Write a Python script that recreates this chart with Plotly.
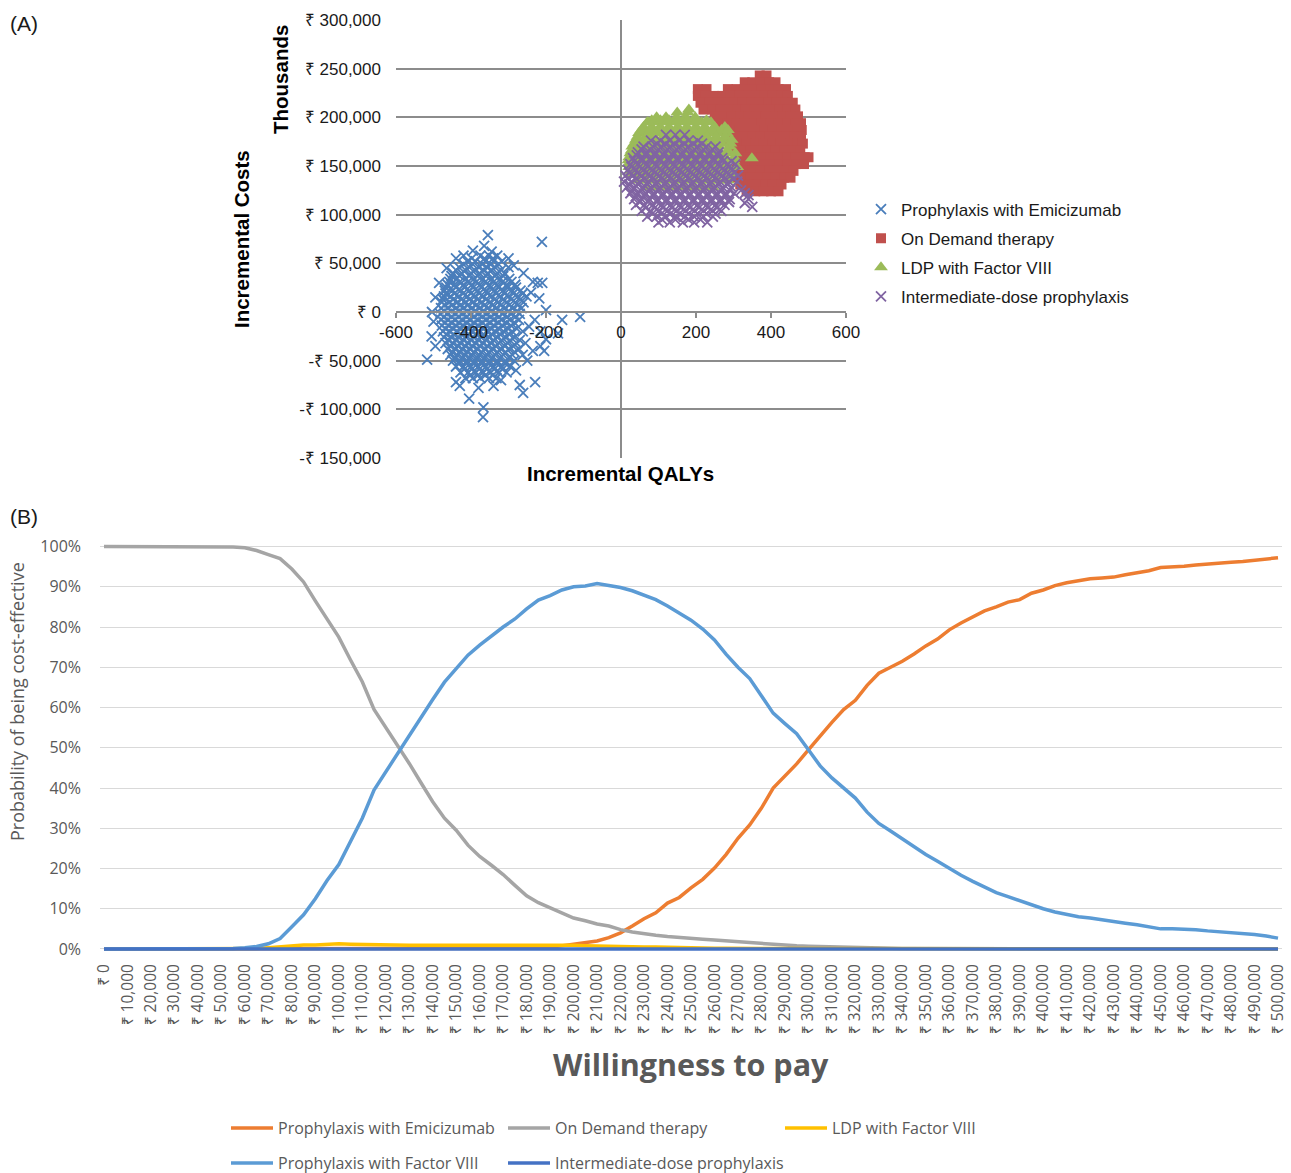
import plotly.graph_objects as go

W, H = 1291, 1173

# ---------------- Panel A data: (incremental QALYs, incremental costs in thousands ₹) ----------------
emicizumab_pts = [
    (-375, 58), (-352, 58), (-330, 58),
    (-410, 52), (-388, 52), (-362, 52), (-340, 52), (-318, 52),
    (-432, 46), (-405, 46), (-380, 46), (-358, 46), (-336, 46), (-300, 46),
    (-448, 40), (-425, 40), (-400, 40), (-377, 40), (-355, 40), (-330, 40), (-310, 40),
    (-455, 34), (-438, 34), (-414, 34), (-392, 34), (-368, 34), (-345, 34), (-322, 34), (-298, 34),
    (-462, 28), (-444, 28), (-420, 28), (-398, 28), (-376, 28), (-352, 28), (-330, 28), (-305, 28), (-282, 28),
    (-470, 22), (-450, 22), (-428, 22), (-405, 22), (-383, 22), (-360, 22), (-338, 22), (-315, 22), (-292, 22), (-268, 22),
    (-472, 16), (-455, 16), (-433, 16), (-410, 16), (-390, 16), (-368, 16), (-345, 16), (-322, 16), (-300, 16), (-275, 16), (-252, 16),
    (-478, 10), (-458, 10), (-437, 10), (-415, 10), (-395, 10), (-372, 10), (-350, 10), (-328, 10), (-305, 10), (-282, 10), (-260, 10),
    (-480, 4), (-462, 4), (-440, 4), (-420, 4), (-398, 4), (-377, 4), (-355, 4), (-333, 4), (-310, 4), (-288, 4), (-265, 4),
    (-482, -2), (-463, -2), (-442, -2), (-422, -2), (-402, -2), (-380, -2), (-358, -2), (-336, -2), (-315, -2), (-292, -2), (-270, -2),
    (-480, -8), (-462, -8), (-443, -8), (-423, -8), (-403, -8), (-382, -8), (-360, -8), (-340, -8), (-318, -8), (-296, -8), (-272, -8),
    (-478, -14), (-460, -14), (-440, -14), (-420, -14), (-400, -14), (-380, -14), (-360, -14), (-338, -14), (-316, -14), (-293, -14),
    (-475, -20), (-457, -20), (-437, -20), (-417, -20), (-398, -20), (-378, -20), (-357, -20), (-335, -20), (-313, -20), (-290, -20), (-262, -20),
    (-472, -26), (-452, -26), (-433, -26), (-413, -26), (-393, -26), (-373, -26), (-352, -26), (-330, -26), (-308, -26), (-284, -26),
    (-468, -32), (-448, -32), (-428, -32), (-408, -32), (-388, -32), (-368, -32), (-347, -32), (-325, -32), (-302, -32), (-278, -32), (-255, -32),
    (-462, -38), (-442, -38), (-423, -38), (-403, -38), (-383, -38), (-363, -38), (-342, -38), (-320, -38), (-298, -38), (-272, -38),
    (-455, -44), (-437, -44), (-417, -44), (-398, -44), (-378, -44), (-357, -44), (-336, -44), (-314, -44), (-290, -44), (-262, -44),
    (-448, -50), (-430, -50), (-410, -50), (-390, -50), (-370, -50), (-350, -50), (-330, -50), (-308, -50), (-285, -50),
    (-440, -56), (-420, -56), (-400, -56), (-380, -56), (-360, -56), (-340, -56), (-318, -56), (-296, -56),
    (-428, -62), (-408, -62), (-388, -62), (-368, -62), (-348, -62), (-326, -62), (-305, -62),
    (-415, -68), (-395, -68), (-375, -68), (-352, -68), (-332, -68),
    # interleaved core points
    (-398, 55), (-364, 55), (-341, 55),
    (-420, 49), (-395, 49), (-370, 49), (-348, 49), (-326, 49),
    (-440, 43), (-415, 43), (-390, 43), (-367, 43), (-345, 43), (-320, 43),
    (-452, 37), (-430, 37), (-405, 37), (-382, 37), (-360, 37), (-336, 37), (-314, 37),
    (-458, 31), (-430, 31), (-408, 31), (-386, 31), (-362, 31), (-340, 31), (-316, 31), (-292, 31),
    (-466, 25), (-440, 25), (-417, 25), (-394, 25), (-372, 25), (-348, 25), (-326, 25), (-302, 25), (-280, 25),
    (-468, 19), (-444, 19), (-421, 19), (-400, 19), (-378, 19), (-356, 19), (-333, 19), (-310, 19), (-287, 19), (-262, 19),
    (-475, 13), (-447, 13), (-425, 13), (-404, 13), (-382, 13), (-360, 13), (-337, 13), (-314, 13), (-292, 13), (-268, 13),
    (-470, 7), (-450, 7), (-428, 7), (-408, 7), (-386, 7), (-364, 7), (-342, 7), (-320, 7), (-298, 7), (-275, 7),
    (-472, 1), (-452, 1), (-432, 1), (-410, 1), (-390, 1), (-368, 1), (-346, 1), (-324, 1), (-300, 1), (-278, 1),
    (-473, -5), (-452, -5), (-433, -5), (-412, -5), (-392, -5), (-370, -5), (-348, -5), (-326, -5), (-304, -5), (-282, -5),
    (-470, -11), (-452, -11), (-432, -11), (-412, -11), (-392, -11), (-370, -11), (-350, -11), (-328, -11), (-306, -11), (-284, -11),
    (-468, -17), (-448, -17), (-428, -17), (-408, -17), (-388, -17), (-368, -17), (-347, -17), (-326, -17), (-302, -17), (-278, -17),
    (-465, -23), (-446, -23), (-426, -23), (-406, -23), (-386, -23), (-366, -23), (-344, -23), (-322, -23), (-298, -23),
    (-460, -29), (-440, -29), (-420, -29), (-400, -29), (-380, -29), (-360, -29), (-340, -29), (-318, -29), (-296, -29), (-270, -29),
    (-455, -35), (-435, -35), (-415, -35), (-396, -35), (-376, -35), (-356, -35), (-334, -35), (-310, -35), (-288, -35),
    (-450, -41), (-430, -41), (-410, -41), (-392, -41), (-372, -41), (-352, -41), (-330, -41), (-308, -41), (-284, -41),
    (-442, -47), (-423, -47), (-404, -47), (-384, -47), (-364, -47), (-344, -47), (-322, -47), (-298, -47),
    (-432, -53), (-412, -53), (-392, -53), (-372, -53), (-352, -53), (-330, -53), (-308, -53),
    (-418, -59), (-398, -59), (-378, -59), (-358, -59), (-338, -59), (-316, -59),
    (-402, -65), (-382, -65), (-362, -65), (-342, -65),
    # scattered edge points
    (-355, 79), (-365, 68), (-345, 62), (-300, 55), (-211, 72), (-420, 58), (-395, 63),
    (-235, 31), (-222, 30), (-210, 30), (-240, 20), (-218, 14), (-200, 2), (-157, -8),
    (-109, -5), (-168, -22), (-504, 0), (-517, -49), (-495, -35), (-500, -10),
    (-368, -108), (-367, -98), (-405, -89), (-261, -83), (-229, -72), (-270, -75),
    (-440, -72), (-430, -76), (-380, -78), (-340, -76), (-320, -70), (-250, -50),
    (-235, -40), (-215, -35), (-200, -28), (-280, -60), (-505, -25), (-495, 15),
    (-485, 30), (-465, 45), (-440, 55), (-286, 48), (-260, 40), (-245, -15),
    (-230, -8), (-215, -20), (-205, -40),
]

on_demand_pts = [
    (370, 243), (388, 243),
    (330, 236), (350, 236), (372, 236), (395, 236), (412, 236),
    (205, 229), (228, 229), (285, 229), (308, 229), (330, 229), (352, 229), (375, 229), (398, 229), (420, 229), (440, 229),
    (205, 222), (225, 222), (248, 222), (270, 222), (292, 222), (315, 222), (338, 222), (360, 222), (382, 222), (405, 222), (428, 222), (445, 222),
    (212, 215), (235, 215), (258, 215), (280, 215), (302, 215), (325, 215), (348, 215), (370, 215), (393, 215), (415, 215), (438, 215), (458, 215),
    (220, 208), (243, 208), (265, 208), (288, 208), (310, 208), (333, 208), (356, 208), (378, 208), (400, 208), (423, 208), (445, 208), (465, 208),
    (250, 201), (272, 201), (295, 201), (318, 201), (340, 201), (362, 201), (385, 201), (408, 201), (430, 201), (452, 201), (472, 201),
    (262, 194), (285, 194), (308, 194), (330, 194), (352, 194), (375, 194), (398, 194), (420, 194), (443, 194), (465, 194), (480, 194),
    (270, 187), (292, 187), (315, 187), (338, 187), (360, 187), (383, 187), (405, 187), (428, 187), (450, 187), (470, 187), (482, 187),
    (282, 180), (305, 180), (328, 180), (350, 180), (372, 180), (395, 180), (418, 180), (440, 180), (462, 180), (480, 180),
    (290, 173), (312, 173), (335, 173), (358, 173), (380, 173), (403, 173), (425, 173), (448, 173), (470, 173), (485, 173),
    (300, 166), (322, 166), (345, 166), (368, 166), (390, 166), (413, 166), (435, 166), (458, 166), (478, 166),
    (308, 159), (330, 159), (352, 159), (375, 159), (398, 159), (420, 159), (443, 159), (465, 159), (490, 159), (500, 159),
    (310, 152), (333, 152), (355, 152), (378, 152), (400, 152), (422, 152), (445, 152), (468, 152), (488, 152),
    (305, 145), (328, 145), (350, 145), (372, 145), (395, 145), (418, 145), (440, 145), (460, 145),
    (300, 138), (322, 138), (345, 138), (368, 138), (390, 138), (412, 138), (435, 138), (452, 138),
    (318, 131), (340, 131), (362, 131), (385, 131), (405, 131), (428, 131),
    (335, 124), (358, 124), (380, 124), (400, 124), (420, 124),
]

ldp_pts = [
    (150, 205), (178, 205),
    (95, 200), (120, 200), (148, 200), (172, 200), (198, 200),
    (70, 195), (92, 195), (115, 195), (140, 195), (165, 195), (190, 195), (215, 195), (240, 195),
    (60, 190), (82, 190), (105, 190), (128, 190), (152, 190), (176, 190), (200, 190), (224, 190), (250, 190), (277, 190),
    (48, 184), (70, 184), (92, 184), (115, 184), (138, 184), (162, 184), (186, 184), (210, 184), (234, 184), (258, 184), (282, 184),
    (40, 177), (62, 177), (85, 177), (108, 177), (131, 177), (155, 177), (178, 177), (202, 177), (226, 177), (250, 177), (272, 177), (295, 177),
    (30, 170), (52, 170), (75, 170), (98, 170), (121, 170), (145, 170), (168, 170), (192, 170), (216, 170), (240, 170), (262, 170), (290, 170),
    (25, 163), (45, 163), (68, 163), (90, 163), (113, 163), (137, 163), (160, 163), (184, 163), (208, 163), (232, 163), (256, 163), (280, 163), (305, 163),
    (20, 156), (40, 156), (62, 156), (85, 156), (108, 156), (132, 156), (155, 156), (178, 156), (202, 156), (226, 156), (250, 156), (275, 156), (300, 156), (349, 158),
    (22, 149), (42, 149), (65, 149), (88, 149), (112, 149), (135, 149), (158, 149), (182, 149), (206, 149), (230, 149), (255, 149), (280, 149), (310, 149),
    (30, 142), (52, 142), (75, 142), (98, 142), (122, 142), (146, 142), (170, 142), (194, 142), (218, 142), (242, 142), (268, 142), (295, 142),
    (45, 135), (68, 135), (92, 135), (116, 135), (140, 135), (164, 135), (188, 135), (212, 135), (236, 135), (260, 135), (285, 135),
    (70, 128), (95, 128), (120, 128), (145, 128), (170, 128), (195, 128), (220, 128), (245, 128),
    # interleaved points
    (82, 197), (105, 197), (128, 197), (152, 197), (178, 197), (202, 197), (228, 197),
    (54, 187), (76, 187), (98, 187), (122, 187), (145, 187), (169, 187), (193, 187), (217, 187), (242, 187), (268, 187),
    (44, 180), (66, 180), (88, 180), (112, 180), (135, 180), (158, 180), (182, 180), (206, 180), (230, 180), (254, 180), (278, 180),
    (35, 173), (57, 173), (80, 173), (103, 173), (126, 173), (150, 173), (173, 173), (197, 173), (221, 173), (245, 173), (268, 173), (292, 173),
    (28, 166), (50, 166), (72, 166), (94, 166), (117, 166), (141, 166), (164, 166), (188, 166), (212, 166), (236, 166), (260, 166), (285, 166),
    (22, 159), (42, 159), (65, 159), (88, 159), (110, 159), (134, 159), (158, 159), (181, 159), (205, 159), (229, 159), (253, 159), (278, 159), (302, 159),
    (20, 152), (40, 152), (62, 152), (86, 152), (110, 152), (134, 152), (158, 152), (182, 152), (206, 152), (230, 152), (255, 152), (280, 152),
    (25, 145), (46, 145), (70, 145), (93, 145), (117, 145), (141, 145), (165, 145), (189, 145), (213, 145), (237, 145), (262, 145), (288, 145),
    (35, 166), (72, 195), (181, 208), (285, 187),
]

intermediate_pts = [
    (120, 182), (145, 182), (170, 182),
    (80, 176), (105, 176), (130, 176), (155, 176), (180, 176), (205, 176),
    (60, 170), (85, 170), (108, 170), (132, 170), (156, 170), (180, 170), (204, 170), (228, 170), (252, 170),
    (45, 164), (68, 164), (92, 164), (116, 164), (140, 164), (164, 164), (188, 164), (212, 164), (236, 164), (260, 164),
    (32, 158), (55, 158), (78, 158), (102, 158), (126, 158), (150, 158), (174, 158), (198, 158), (222, 158), (246, 158), (270, 158),
    (25, 152), (45, 152), (68, 152), (92, 152), (116, 152), (140, 152), (164, 152), (188, 152), (212, 152), (236, 152), (260, 152), (284, 152), (305, 152),
    (18, 146), (38, 146), (60, 146), (84, 146), (108, 146), (132, 146), (156, 146), (180, 146), (204, 146), (228, 146), (252, 146), (276, 146), (298, 146),
    (12, 140), (32, 140), (55, 140), (78, 140), (102, 140), (126, 140), (150, 140), (174, 140), (198, 140), (222, 140), (246, 140), (270, 140), (292, 140), (312, 140),
    (8, 134), (28, 134), (50, 134), (72, 134), (96, 134), (120, 134), (144, 134), (168, 134), (192, 134), (216, 134), (240, 134), (264, 134), (288, 134), (310, 134),
    (15, 128), (35, 128), (58, 128), (80, 128), (104, 128), (128, 128), (152, 128), (176, 128), (200, 128), (224, 128), (248, 128), (272, 128), (295, 128),
    (25, 122), (45, 122), (66, 122), (88, 122), (112, 122), (136, 122), (160, 122), (184, 122), (208, 122), (232, 122), (256, 122), (280, 122), (302, 122), (330, 122),
    (35, 116), (55, 116), (76, 116), (98, 116), (122, 116), (146, 116), (170, 116), (194, 116), (218, 116), (242, 116), (266, 116), (290, 116), (340, 116),
    (40, 110), (62, 110), (85, 110), (108, 110), (132, 110), (156, 110), (180, 110), (204, 110), (228, 110), (252, 110), (276, 110), (350, 108),
    (55, 104), (78, 104), (100, 104), (124, 104), (148, 104), (172, 104), (196, 104), (220, 104), (244, 104), (268, 104),
    (70, 98), (95, 98), (120, 98), (145, 98), (170, 98), (195, 98), (220, 98), (245, 98),
    (100, 92), (130, 92), (165, 92), (195, 92), (230, 92),
    # interleaved core points
    (95, 173), (118, 173), (142, 173), (168, 173), (192, 173), (216, 173),
    (55, 167), (78, 167), (100, 167), (124, 167), (148, 167), (172, 167), (196, 167), (220, 167), (244, 167),
    (42, 161), (66, 161), (90, 161), (114, 161), (138, 161), (162, 161), (186, 161), (210, 161), (234, 161), (258, 161),
    (35, 155), (56, 155), (80, 155), (104, 155), (128, 155), (152, 155), (176, 155), (200, 155), (224, 155), (248, 155), (272, 155), (295, 155),
    (28, 149), (50, 149), (72, 149), (96, 149), (120, 149), (144, 149), (168, 149), (192, 149), (216, 149), (240, 149), (264, 149), (288, 149),
    (22, 143), (44, 143), (66, 143), (90, 143), (114, 143), (138, 143), (162, 143), (186, 143), (210, 143), (234, 143), (258, 143), (282, 143), (302, 143),
    (18, 137), (40, 137), (62, 137), (84, 137), (108, 137), (132, 137), (156, 137), (180, 137), (204, 137), (228, 137), (252, 137), (276, 137), (300, 137),
    (22, 131), (46, 131), (70, 131), (92, 131), (116, 131), (140, 131), (164, 131), (188, 131), (212, 131), (236, 131), (260, 131), (284, 131),
    (30, 125), (52, 125), (76, 125), (100, 125), (124, 125), (148, 125), (172, 125), (196, 125), (220, 125), (244, 125), (268, 125), (290, 125),
    (40, 119), (62, 119), (86, 119), (110, 119), (134, 119), (158, 119), (182, 119), (206, 119), (230, 119), (254, 119), (278, 119),
    (50, 113), (72, 113), (96, 113), (120, 113), (144, 113), (168, 113), (192, 113), (216, 113), (240, 113), (264, 113), (288, 113),
    (66, 107), (90, 107), (112, 107), (136, 107), (160, 107), (184, 107), (208, 107), (232, 107), (256, 107),
    (84, 101), (108, 101), (132, 101), (156, 101), (180, 101), (204, 101), (228, 101), (252, 101),
    (110, 95), (145, 95), (180, 95), (212, 95),
    (340, 120), (330, 112), (320, 125),
]

qaly_ticks = [-600, -400, -200, 0, 200, 400, 600]
cost_ticks = [-150, -100, -50, 0, 50, 100, 150, 200, 250, 300]
cost_tick_text = ["-₹ 150,000", "-₹ 100,000", "-₹ 50,000", "₹ 0", "₹ 50,000", "₹ 100,000",
                  "₹ 150,000", "₹ 200,000", "₹ 250,000", "₹ 300,000"]

# ---------------- Panel B data: probability of being cost-effective (%) ----------------
wtp = list(range(0, 500001, 5000))
wtp_ticks = list(range(0, 500001, 10000))
wtp_tick_text = ["₹ 0"] + ["₹ {:,}".format(v) for v in wtp_ticks[1:]]

p_emicizumab = [
    0, 0, 0, 0, 0, 0, 0, 0, 0, 0,
    0, 0, 0, 0, 0, 0, 0, 0, 0, 0,
    0, 0, 0, 0, 0, 0, 0, 0, 0, 0,
    0, 0, 0, 0, 0, 0, 0, 0.2, 0.4, 0.8,
    1.2, 1.5, 2.0, 2.8, 4.0, 5.7, 7.5, 9.0, 11.4, 12.8,
    15.2, 17.3, 20.1, 23.5, 27.5, 30.8, 35.0, 40.0, 43.0, 46.0,
    49.5, 53.0, 56.3, 59.5, 61.8, 65.5, 68.5, 70.0, 71.5, 73.3,
    75.3, 77.0, 79.3, 81.0, 82.5, 84.0, 85.0, 86.2, 86.8, 88.4,
    89.2, 90.3, 91.0, 91.5, 92.0, 92.2, 92.4, 93.0, 93.5, 94.0,
    94.8, 94.9, 95.1, 95.4, 95.7, 95.9, 96.1, 96.3, 96.6, 96.8,
    97.2,
]
p_on_demand = [
    100, 100, 100, 100, 100, 100, 100, 100, 100, 100,
    100, 99.9, 99.7, 99.0, 98.0, 97.0, 94.4, 91.2, 86.5, 81.8,
    77.5, 71.8, 66.4, 59.5, 55.1, 50.6, 46.1, 41.3, 36.6, 32.5,
    29.5, 25.8, 23.0, 20.8, 18.5, 15.8, 13.2, 11.5, 10.3, 9.0,
    7.7, 7.0, 6.2, 5.7, 4.8, 4.2, 3.7, 3.4, 3.1, 2.8,
    2.6, 2.4, 2.2, 2.0, 1.7, 1.4, 1.2, 1.0, 0.9, 0.8,
    0.7, 0.6, 0.5, 0.4, 0.3, 0.2, 0.2, 0.1, 0.1, 0.1,
    0.1, 0.1, 0.1, 0, 0, 0, 0, 0, 0, 0,
    0, 0, 0, 0, 0, 0, 0, 0, 0, 0,
    0, 0, 0, 0, 0, 0, 0, 0, 0, 0,
    0,
]
p_ldp = [
    0, 0, 0, 0, 0, 0, 0, 0, 0, 0,
    0, 0, 0, 0.1, 0.3, 0.6, 0.9, 1.0, 1.0, 1.2,
    1.3, 1.2, 1.1, 1.0, 0.9, 0.9, 0.9, 0.9, 0.9, 0.9,
    0.9, 0.9, 0.9, 1.0, 1.1, 1.0, 0.9, 0.9, 0.9, 0.9,
    0.9, 0.8, 0.7, 0.7, 0.6, 0.6, 0.5, 0.5, 0.4, 0.4,
    0.3, 0.3, 0.2, 0.2, 0.1, 0.1, 0.1, 0.1, 0.1, 0.1,
    0.1, 0.1, 0.1, 0.1, 0.1, 0, 0, 0, 0, 0,
    0, 0, 0, 0, 0, 0, 0, 0, 0, 0,
    0, 0, 0, 0, 0, 0, 0, 0, 0, 0,
    0, 0, 0, 0, 0, 0, 0, 0, 0, 0,
    0,
]
p_factor_viii = [
    0, 0, 0, 0, 0, 0, 0, 0, 0, 0,
    0, 0.1, 0.3, 0.6, 1.3, 2.6, 5.5, 8.5, 12.5, 17.0,
    21.0, 27.0, 32.5, 39.5, 44.0, 48.5, 53.0, 57.8, 62.0, 66.3,
    69.5, 73.0, 75.5, 77.8, 80.0, 82.0, 84.5, 86.7, 87.8, 89.2,
    90.0, 90.2, 90.8, 90.3, 89.8, 89.0, 87.8, 86.8, 85.2, 83.4,
    81.7, 79.5, 76.8, 73.2, 70.0, 67.2, 63.0, 58.6, 56.0, 53.5,
    49.5, 45.5, 42.5, 40.0, 37.5, 34.0, 31.2, 29.3, 27.3, 25.3,
    23.5, 21.8, 20.0, 18.3, 16.8, 15.3, 14.0, 13.0, 12.0, 10.8,
    10.0, 9.2, 8.6, 8.0, 7.7, 7.2, 6.8, 6.4, 6.0, 5.5,
    5.0, 5.0, 5.0, 4.8, 4.5, 4.3, 4.1, 3.9, 3.6, 3.2,
    2.7,
]
p_intermediate = [
    0, 0, 0, 0, 0, 0, 0, 0, 0, 0,
    0, 0, 0, 0, 0, 0, 0, 0, 0, 0,
    0, 0, 0, 0, 0, 0, 0, 0, 0, 0,
    0, 0, 0, 0, 0, 0, 0, 0, 0, 0,
    0, 0, 0, 0, 0, 0, 0, 0, 0, 0,
    0, 0, 0, 0, 0, 0, 0, 0, 0, 0,
    0, 0, 0, 0, 0, 0, 0, 0, 0, 0,
    0, 0, 0, 0, 0, 0, 0, 0, 0, 0,
    0, 0, 0, 0, 0, 0, 0, 0, 0.1, 0.1,
    0, 0, 0, 0, 0, 0, 0, 0, 0, 0,
    0,
]
prob_ticks = [0, 10, 20, 30, 40, 50, 60, 70, 80, 90, 100]

# ---------------- helpers ----------------
def px_x(p):
    return p / W

def px_y(p):
    return 1 - p / H

def unzip(pts):
    return [a for a, b in pts], [b for a, b in pts]

ARIAL = "Liberation Sans, Arial, sans-serif"
CAL = "Open Sans, Noto Sans, sans-serif"

fig = go.Figure()

# Panel A scatter traces
scatter_specs = [
    ("Prophylaxis with Emicizumab", emicizumab_pts, "x-thin", "#4A7EBB", 10, 1.8),
    ("On Demand therapy", on_demand_pts, "square", "#C0504D", 10, 0),
    ("LDP with Factor VIII", ldp_pts, "triangle-up", "#9BBB59", 12, 0),
    ("Intermediate-dose prophylaxis", intermediate_pts, "x-thin", "#8064A2", 10, 1.8),
]
for i, (name, pts, sym, col, size, lw) in enumerate(scatter_specs):
    xs, ys = unzip(pts)
    fig.add_trace(go.Scatter(
        x=xs, y=ys, mode="markers", name=name,
        xaxis="x", yaxis="y", legend="legend", legendgroup="a%d" % i,
        marker=dict(symbol=sym, size=size, color=col,
                    line=dict(width=lw, color=col)),
    ))

# Panel B line traces
line_specs = [
    ("Prophylaxis with Emicizumab", p_emicizumab, "#ED7D31", "legend2"),
    ("On Demand therapy", p_on_demand, "#A5A5A5", "legend2"),
    ("LDP with Factor VIII", p_ldp, "#FFC000", "legend2"),
    ("Prophylaxis with Factor VIII", p_factor_viii, "#5B9BD5", "legend3"),
    ("Intermediate-dose prophylaxis", p_intermediate, "#4472C4", "legend3"),
]
for name, vals, col, leg in line_specs:
    fig.add_trace(go.Scatter(
        x=wtp, y=[v / 100 for v in vals], mode="lines", name=name,
        xaxis="x2", yaxis="y2", legend=leg,
        line=dict(color=col, width=3.5),
    ))

# invisible spacer entry so the last legend label of row 2 is not clipped
fig.add_trace(go.Scatter(
    x=[None], y=[None], mode="lines", name=" ", xaxis="x2", yaxis="y2",
    legend="legend3", hoverinfo="skip",
    line=dict(color="rgba(0,0,0,0)", width=0),
))

# Panel A geometry (pixels): plot area x 396..846, y 20..458
a_dom_x = [px_x(396), px_x(846)]
a_dom_y = [px_y(458), px_y(20)]
zero_pos = a_dom_y[0] + (a_dom_y[1] - a_dom_y[0]) * (150 / 450)

# Panel B geometry
b_dom_x = [px_x(100), px_x(1282)]
b_dom_y = [px_y(953), px_y(542.5)]

fig.update_layout(
    width=W, height=H, autosize=False,
    margin=dict(l=0, r=0, t=0, b=0, pad=0, autoexpand=False),
    paper_bgcolor="white", plot_bgcolor="white",
    showlegend=True,
    xaxis=dict(
        domain=a_dom_x, range=[-600, 600], anchor="free", position=zero_pos,
        tickvals=qaly_ticks, ticktext=[str(v) for v in qaly_ticks],
        showgrid=False, showline=True, linecolor="#8C8C8C", linewidth=1.5,
        ticks="outside", ticklen=5, tickwidth=1.5, tickcolor="#8C8C8C",
        zeroline=True, zerolinecolor="#8C8C8C", zerolinewidth=1.5,
        tickfont=dict(family=ARIAL, size=17, color="#1A1A1A"),
        automargin=False, fixedrange=True,
    ),
    yaxis=dict(
        domain=a_dom_y, range=[-150, 300], anchor="x",
        tickvals=cost_ticks, ticktext=cost_tick_text,
        showgrid=True, gridcolor="#8C8C8C", gridwidth=1.5,
        zeroline=False, showline=False, ticks="",
        ticklabelstandoff=14,
        tickfont=dict(family=ARIAL, size=17, color="#1A1A1A"),
        automargin=False, fixedrange=True,
    ),
    xaxis2=dict(
        domain=b_dom_x, range=[-1700, 501700], anchor="y2",
        tickvals=wtp_ticks, ticktext=wtp_tick_text, tickangle=-90,
        showgrid=False, showline=False, zeroline=False, ticks="",
        ticklabelstandoff=7,
        tickfont=dict(family=CAL, size=15.5, color="#595959"),
        automargin=False, fixedrange=True,
    ),
    yaxis2=dict(
        domain=b_dom_y, range=[-0.01, 1.01], anchor="x2",
        tickvals=[v / 100 for v in prob_ticks], ticktext=["%d%%" % v for v in prob_ticks],
        showgrid=True, gridcolor="#D9D9D9", gridwidth=1.3,
        zeroline=False, showline=False, ticks="",
        ticklabelstandoff=18,
        tickfont=dict(family=CAL, size=16, color="#595959"),
        automargin=False, fixedrange=True,
    ),
    legend=dict(
        x=px_x(861), xanchor="left", y=px_y(253), yanchor="middle",
        orientation="v", tracegroupgap=4, bgcolor="rgba(0,0,0,0)",
        font=dict(family=ARIAL, size=17, color="#1A1A1A"),
    ),
    legend2=dict(
        x=px_x(226), xanchor="left", y=px_y(1128), yanchor="middle",
        orientation="h", entrywidth=220, entrywidthmode="pixels", itemwidth=42,
        bgcolor="rgba(0,0,0,0)",
        font=dict(family=CAL, size=16, color="#595959"),
    ),
    legend3=dict(
        x=px_x(226), xanchor="left", y=px_y(1163), yanchor="middle",
        orientation="h", entrywidth=220, entrywidthmode="pixels", itemwidth=42,
        bgcolor="rgba(0,0,0,0)",
        font=dict(family=CAL, size=16, color="#595959"),
    ),
    annotations=[
        dict(text="(A)", x=px_x(8), y=px_y(23), xref="paper", yref="paper",
             xanchor="left", yanchor="middle", showarrow=False,
             font=dict(family=ARIAL, size=21, color="#1A1A1A")),
        dict(text="(B)", x=px_x(8), y=px_y(516), xref="paper", yref="paper",
             xanchor="left", yanchor="middle", showarrow=False,
             font=dict(family=ARIAL, size=21, color="#1A1A1A")),
        dict(text="<b>Incremental Costs</b>", x=px_x(241), y=px_y(239), xref="paper", yref="paper",
             xanchor="center", yanchor="middle", showarrow=False, textangle=-90,
             font=dict(family=ARIAL, size=20.5, color="#000000")),
        dict(text="<b>Thousands</b>", x=px_x(281), y=px_y(80), xref="paper", yref="paper",
             xanchor="center", yanchor="middle", showarrow=False, textangle=-90,
             font=dict(family=ARIAL, size=20.5, color="#000000")),
        dict(text="<b>Incremental QALYs</b>", x=px_x(620), y=px_y(473), xref="paper", yref="paper",
             xanchor="center", yanchor="middle", showarrow=False,
             font=dict(family=ARIAL, size=20.5, color="#000000")),
        dict(text="Probability of being cost-effective", x=px_x(17), y=px_y(702), xref="paper", yref="paper",
             xanchor="center", yanchor="middle", showarrow=False, textangle=-90,
             font=dict(family=CAL, size=18, color="#595959")),
        dict(text="<b>Willingness to pay</b>", x=px_x(691), y=px_y(1064), xref="paper", yref="paper",
             xanchor="center", yanchor="middle", showarrow=False,
             font=dict(family=CAL, size=30.5, color="#595959")),
    ],
)

fig.write_html("out.html")
